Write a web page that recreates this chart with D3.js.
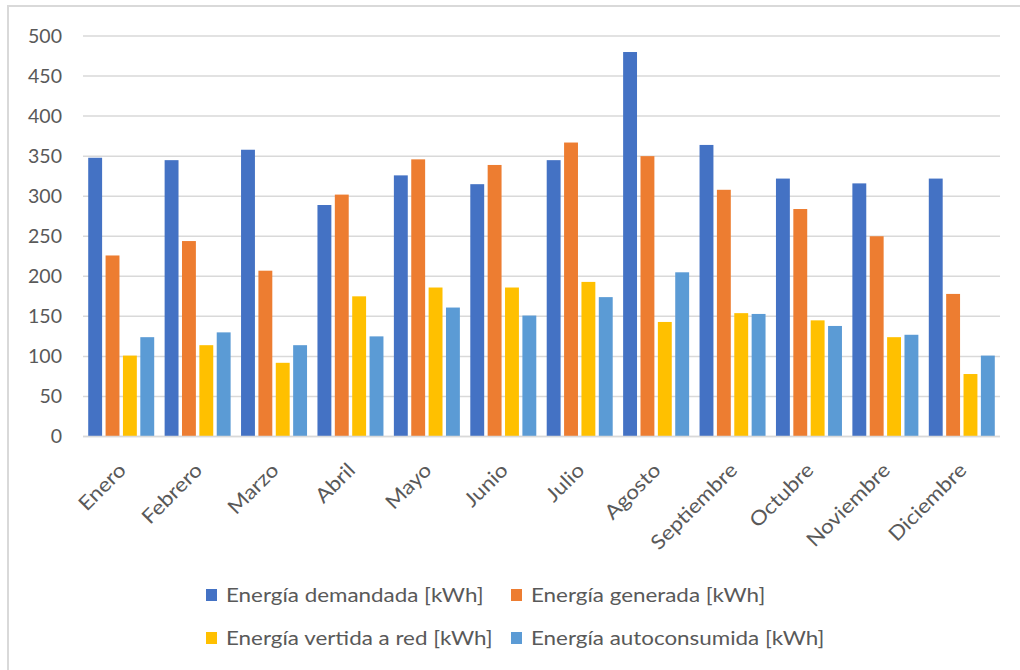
<!DOCTYPE html>
<html>
<head>
<meta charset="utf-8">
<script src="https://cdn.jsdelivr.net/npm/d3@7"></script>
<style>
  html, body { margin: 0; padding: 0; background: #fff; }
  svg { display: block; }
  text { font-family: Lato, "Open Sans", sans-serif; fill: #595959; }
</style>
</head>
<body>
<svg id="chart" width="1020" height="670"></svg>
<script>
// Monthly energy balance of the installation (kWh)
const months = ["Enero", "Febrero", "Marzo", "Abril", "Mayo", "Junio", "Julio",
                "Agosto", "Septiembre", "Octubre", "Noviembre", "Diciembre"];
const seriesNames = ["Energía demandada [kWh]", "Energía generada [kWh]",
                     "Energía vertida a red [kWh]", "Energía autoconsumida [kWh]"];
const seriesColors = ["#4472C4", "#ED7D31", "#FFC000", "#5B9BD5"];

const demandada     = [348, 345, 358, 289, 326, 315, 345, 480, 364, 322, 316, 322];
const generada      = [226, 244, 207, 302, 346, 339, 367, 350, 308, 284, 250, 178];
const vertida       = [101, 114,  92, 175, 186, 186, 193, 143, 154, 145, 124,  78];
const autoconsumida = [124, 130, 114, 125, 161, 151, 174, 205, 153, 138, 127, 101];

const yTicks = [0, 50, 100, 150, 200, 250, 300, 350, 400, 450, 500];

const seriesValues = [demandada, generada, vertida, autoconsumida];
const rows = months.map((m, i) => ({
  month: m,
  values: seriesNames.map((s, k) => ({ key: s, value: seriesValues[k][i], color: seriesColors[k] }))
}));

// horizontal stretch so the label text runs as wide as the original typeface
const textStretch = 1.12;

const svg = d3.select("#chart");

// chart area frame
svg.append("rect")
  .attr("x", 8).attr("y", 6).attr("width", 1030).attr("height", 690)
  .attr("fill", "#fff").attr("stroke", "#D9D9D9").attr("stroke-width", 2);

const plot = { left: 83, right: 1000, top: 36, bottom: 436.5 };

const y = d3.scaleLinear().domain([0, 500]).range([plot.bottom, plot.top]);
const x0 = d3.scaleBand().domain(months).range([plot.left, plot.right]);
const x1 = d3.scaleBand().domain(seriesNames).range([0, x0.bandwidth()])
  .paddingInner(0.2).paddingOuter(0.3);

// horizontal gridlines
svg.append("g").selectAll("line")
  .data(yTicks)
  .join("line")
  .attr("x1", plot.left).attr("x2", plot.right)
  .attr("y1", d => y(d)).attr("y2", d => y(d))
  .attr("stroke", "#D9D9D9").attr("stroke-width", 1.5);

// value axis labels
const yAxis = d3.axisLeft(y).tickValues(yTicks).tickSize(0).tickPadding(0);
svg.append("g")
  .attr("transform", `translate(62,0)`)
  .call(yAxis)
  .call(g => g.select(".domain").remove())
  .call(g => g.selectAll("text")
    .attr("font-family", "Lato, sans-serif")
    .attr("font-size", 19.5)
    .attr("fill", "#595959"));

// bars
const groups = svg.append("g").selectAll("g")
  .data(rows)
  .join("g")
  .attr("transform", d => `translate(${x0(d.month)},0)`);

groups.selectAll("rect")
  .data(d => d.values)
  .join("rect")
  .attr("x", d => x1(d.key))
  .attr("width", x1.bandwidth())
  .attr("y", d => y(d.value))
  .attr("height", d => y(0) - y(d.value))
  .attr("fill", d => d.color);

// category axis line
svg.append("line")
  .attr("x1", plot.left).attr("x2", plot.right)
  .attr("y1", y(0)).attr("y2", y(0))
  .attr("stroke", "#D9D9D9").attr("stroke-width", 1.5);

// rotated month labels
const xAxis = d3.axisBottom(x0).tickSize(0).tickPadding(0);
svg.append("g")
  .attr("transform", `translate(0,${y(0)})`)
  .call(xAxis)
  .call(g => g.select(".domain").remove())
  .call(g => g.selectAll("text")
    .attr("font-family", "Lato, sans-serif")
    .attr("font-size", 20)
    .attr("fill", "#595959")
    .attr("text-anchor", "end")
    .attr("y", 0)
    .attr("dy", "0.35em")
    .attr("transform", `translate(1,30) rotate(-45) scale(${textStretch},1)`));

// legend
const legendPos = [
  { x: 206, y: 595 }, { x: 511, y: 595 },
  { x: 206, y: 638 }, { x: 511, y: 638 }
];
const legend = svg.append("g").selectAll("g")
  .data(seriesNames)
  .join("g")
  .attr("transform", (d, i) => `translate(${legendPos[i].x},${legendPos[i].y})`);
legend.append("rect")
  .attr("x", 0).attr("y", -6).attr("width", 11).attr("height", 12)
  .attr("fill", (d, i) => seriesColors[i]);
legend.append("g")
  .attr("transform", `translate(20,0) scale(${textStretch},1)`)
  .append("text")
  .attr("dy", "0.35em")
  .attr("font-size", 20)
  .text(d => d);
</script>
</body>
</html>
